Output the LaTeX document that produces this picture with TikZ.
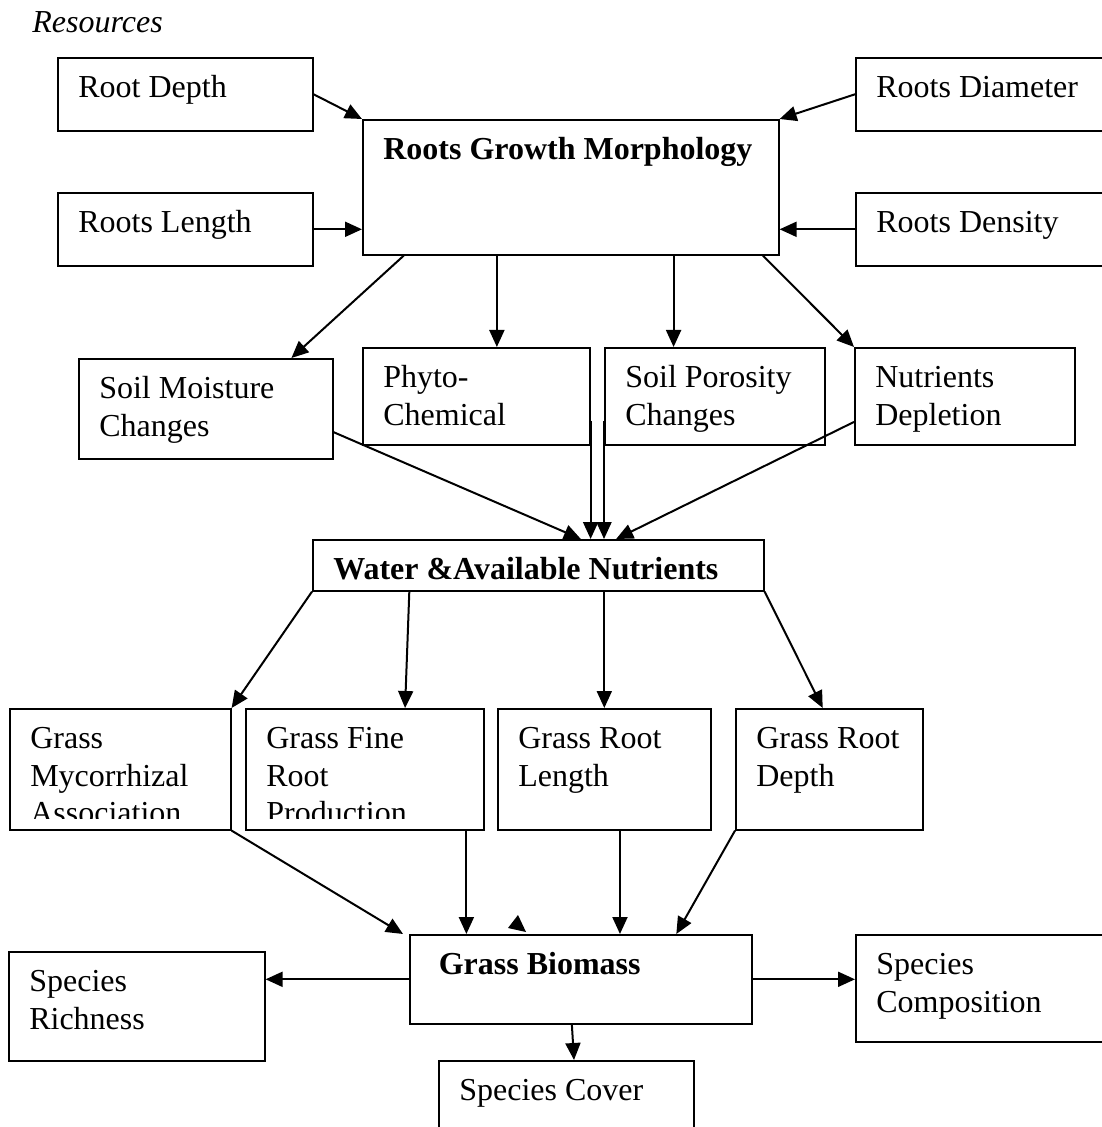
\documentclass[tikz,border=0pt]{standalone}
\usepackage{fontspec}
\setmainfont{Liberation Serif}
\usetikzlibrary{arrows.meta,calc}
\newcommand{\dgfont}{\fontsize{16}{18.75}\selectfont}
\newcommand{\boxtxt}[3]{\parbox[t][#2][t]{\dimexpr#1-20.5pt\relax}{\dgfont\raggedright\rule{0pt}{20pt}#3}}

\begin{document}
\begin{tikzpicture}[x=0.5pt,y=-0.5pt,font=\dgfont]

    \tikzset{box/.style = {draw,line width=0.8pt,anchor=north west,inner xsep=10.25pt,inner ysep=0pt}}
    \tikzset{link/.style = {-{Triangle[length=8.5pt,width=7.5pt]},line width=1pt}}
    \useasboundingbox (0,0) rectangle (1101,1127);

    \node[anchor=base west,inner sep=0pt,font=\dgfont\itshape] (res) at (32,33) {Resources};

    \node[box] (rd) at (57,57) {\boxtxt{127.5pt}{36.5pt}{Root Depth}};
    \node[box] (rl) at (57,192) {\boxtxt{127.5pt}{36.5pt}{Roots Length}};
    \node[box] (rdia) at (855,57) {\boxtxt{127.5pt}{36.5pt}{Roots Diameter}};
    \node[box] (rden) at (855,192) {\boxtxt{127.5pt}{36.5pt}{Roots Density}};
    \node[box] (rgm) at (362,119) {\boxtxt{208pt}{67.5pt}{\bfseries Roots Growth Morphology}};

    \node[box] (smc) at (78,358) {\boxtxt{127pt}{50pt}{Soil Moisture\\Changes}};
    \node[box] (ph) at (362,347) {\boxtxt{113.5pt}{48.5pt}{Phyto-\\Chemical}};
    \node[box] (spc) at (604,347) {\boxtxt{110pt}{48.5pt}{Soil Porosity\\Changes}};
    \node[box] (nd) at (854,347) {\boxtxt{110pt}{48.5pt}{Nutrients\\Depletion}};

    \node[box] (wan) at (312,539) {\boxtxt{225.5pt}{25.5pt}{\bfseries Water \&Available Nutrients}};

    \begin{scope}[even odd rule]
        \clip (0,0) rectangle (1101,1127) (11,818) rectangle (228,827.5) (247,818) rectangle (481,827.5);
        \node[box] (gma) at (9,708) {\boxtxt{110.5pt}{60.5pt}{Grass\\Mycorrhizal\\Association}};
        \node[box] (gfr) at (245,708) {\boxtxt{119pt}{60.5pt}{Grass Fine\\Root\\Production}};
    \end{scope}
    \node[box] (grl) at (497,708) {\boxtxt{106.5pt}{60.5pt}{Grass Root\\Length}};
    \node[box] (grd) at (735,708) {\boxtxt{93.5pt}{60.5pt}{Grass Root\\Depth}};

    \node[box] (gb) at (409,934) {\boxtxt{171pt}{44.5pt}{\bfseries\hspace*{4.25pt}Grass Biomass}};
    \node[box] (sr) at (8,951) {\boxtxt{128pt}{54.5pt}{Species\\Richness}};
    \node[box] (sco) at (855,934) {\boxtxt{127.5pt}{53.5pt}{Species\\Composition}};
    \node[box] (sc) at (438,1060) {\boxtxt{127.5pt}{40pt}{Species Cover}};

    \draw[link] (rd.east) to (rgm.north west);
    \draw[link] (rl.east) to (rl.east -| rgm.west);
    \draw[link] (rdia.west) to (rgm.north east);
    \draw[link] (rden.west) to (rden.west -| rgm.east);

    \coordinate (ph-in) at ($(ph.north west)!0.59!(ph.north east)$);
    \coordinate (spc-in) at ($(spc.north west)!0.314!(spc.north east)$);
    \draw[link] ($(rgm.south west)!0.1!(rgm.south east)$) to ($(smc.north west)!0.835!(smc.north east)$);
    \draw[link] (rgm.south -| ph-in) to (ph-in);
    \draw[link] (rgm.south -| spc-in) to (spc-in);
    \draw[link] ($(rgm.south west)!0.96!(rgm.south east)$) to (nd.north west);

    \coordinate (ph-out) at ($(ph.north east)!0.75!(ph.south east)$);
    \coordinate (spc-out) at ($(spc.north west)!0.75!(spc.south west)$);
    \draw[link] ($(smc.north east)!0.73!(smc.south east)$) to ($(wan.north west)!0.594!(wan.north east)$);
    \draw[link] (ph-out) to (ph-out |- wan.north);
    \draw[link] (spc-out) to (spc-out |- wan.north);
    \draw[link] ($(nd.north west)!0.76!(nd.south west)$) to ($(wan.north west)!0.672!(wan.north east)$);

    \draw[link] (wan.south west) to (gma.north east);
    \draw[link] ($(wan.south west)!0.215!(wan.south east)$) to ($(gfr.north west)!0.668!(gfr.north east)$);
    \draw[link] (wan.south -| grl.north) to (grl.north);
    \draw[link] (wan.south east) to ($(grd.north west)!0.465!(grd.north east)$);

    \coordinate (gfr-out) at ($(gfr.south west)!0.924!(gfr.south east)$);
    \coordinate (grl-out) at ($(grl.south west)!0.573!(grl.south east)$);
    \draw[link] (gma.south east) to ([xshift=-3pt]gb.north west);
    \draw[link] (gfr-out) to (gfr-out |- gb.north);
    \draw[link] (grl-out) to (grl-out |- gb.north);
    \draw[link] (grd.south west) to ($(gb.north west)!0.778!(gb.north east)$);
    \fill (518,915) -- (508,928) -- (526,932) -- cycle;

    \draw[link] (gb.west) to (gb.west -| sr.east);
    \draw[link] (gb.east) to (gb.east -| sco.west);
    \draw[link] ($(gb.south west)!0.474!(gb.south east)$) to ($(sc.north west)!0.53!(sc.north east)$);

\end{tikzpicture}
\end{document}
